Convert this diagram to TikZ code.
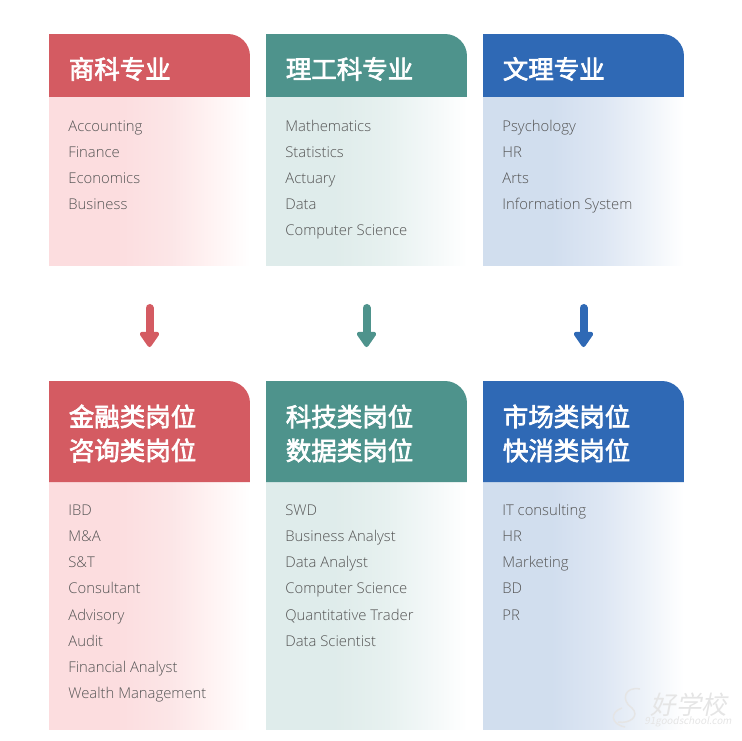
\documentclass[tikz,border=0pt]{standalone}
\usepackage{fontspec}
\setmainfont{Open Sans Light}[BoldFont=Open Sans]
\newfontfamily\cjk{Noto Sans CJK SC}[FakeBold=2.6]
\newfontfamily\markfont{Noto Sans CJK SC}[FakeSlant=0.2]
\usetikzlibrary{arrows.meta}
\definecolor{redhead}{HTML}{D45B62}
\definecolor{greenhead}{HTML}{4E938C}
\definecolor{bluehead}{HTML}{2F69B5}
\definecolor{listtext}{HTML}{555555}
\pgfdeclarehorizontalshading{redfade}{100bp}{rgb(0bp)=(0.988,0.867,0.875);rgb(42bp)=(0.988,0.867,0.875);rgb(55bp)=(0.988,0.90,0.905);rgb(65bp)=(1,0.95,0.95);rgb(75bp)=(1,1,1);rgb(100bp)=(1,1,1)}
\pgfdeclarehorizontalshading{greenfade}{100bp}{rgb(0bp)=(0.875,0.925,0.92);rgb(42bp)=(0.875,0.925,0.92);rgb(55bp)=(0.905,0.945,0.94);rgb(65bp)=(0.95,0.97,0.97);rgb(75bp)=(1,1,1);rgb(100bp)=(1,1,1)}
\pgfdeclarehorizontalshading{bluefade}{100bp}{rgb(0bp)=(0.82,0.87,0.935);rgb(42bp)=(0.82,0.87,0.935);rgb(55bp)=(0.87,0.905,0.955);rgb(65bp)=(0.93,0.95,0.975);rgb(75bp)=(1,1,1);rgb(100bp)=(1,1,1)}
\begin{document}
\begin{tikzpicture}[x=0.02cm,y=-0.02cm]
\tikzset{box/.style = {inner sep=0, outer sep=0, minimum width=4.02cm}}
\tikzset{head/.style = {font=\cjk\fontsize{14.5}{19.3}\selectfont, text=white, align=left, anchor=west, inner sep=0}}
\tikzset{item/.style = {font=\fontsize{8.45}{10}\selectfont, text=listtext, anchor=base west, inner sep=0}}
\tikzset{down/.style = {line width=0.16cm, -{Triangle[width=0.44cm,length=0.34cm,round]}, line cap=round, shorten <=0.84cm, shorten >=0.68cm}}
\tikzset{marktext/.style = {inner sep=0, text=black!10}}
\newcommand{\headfill}[2]{\fill[#2] (#1.south west) -- (#1.north west) [rounded corners=0.44cm] -- (#1.north east) [sharp corners] -- (#1.south east) -- cycle;}
\useasboundingbox (0,0) rectangle (742,740);

% The upper row
\node[box, minimum height=1.26cm] (h1) at (149.5,65.5){};
\node[box, minimum height=1.26cm] (h2) at (366.5,65.5){};
\node[box, minimum height=1.26cm] (h3) at (583.5,65.5){};
\node[box, minimum height=3.38cm, shading=redfade] (b1) at (149.5,181.5){};
\node[box, minimum height=3.38cm, shading=greenfade] (b2) at (366.5,181.5){};
\node[box, minimum height=3.38cm, shading=bluefade] (b3) at (583.5,181.5){};
\headfill{h1}{redhead}
\headfill{h2}{greenhead}
\headfill{h3}{bluehead}
\node[head] (t1) at (68.5,69){商科专业};
\node[head] (t2) at (285.5,69){理工科专业};
\node[head] (t3) at (502.5,69){文理专业};

% The lower row
\node[box, minimum height=2.02cm] (h4) at (149.5,431.5){};
\node[box, minimum height=2.02cm] (h5) at (366.5,431.5){};
\node[box, minimum height=2.02cm] (h6) at (583.5,431.5){};
\node[box, minimum height=4.96cm, shading=redfade] (b4) at (149.5,606){};
\node[box, minimum height=4.96cm, shading=greenfade] (b5) at (366.5,606){};
\node[box, minimum height=4.96cm, shading=bluefade] (b6) at (583.5,606){};
\headfill{h4}{redhead}
\headfill{h5}{greenhead}
\headfill{h6}{bluehead}
\node[head] (t4) at (68.5,433.5){金融类岗位\\咨询类岗位};
\node[head] (t5) at (285.5,433.5){科技类岗位\\数据类岗位};
\node[head] (t6) at (502.5,433.5){市场类岗位\\快消类岗位};

% The arrows
\draw[redhead, down] (b1) -- (h4);
\draw[greenhead, down] (b2) -- (h5);
\draw[bluehead, down] (b3) -- (h6);

% The lists
\foreach \txt [count=\i from 0] in {Accounting,Finance,Economics,Business}
  \node[item] (a\i) at (68,131.4+26*\i){\txt};
\foreach \txt [count=\i from 0] in {Mathematics,Statistics,Actuary,Data,Computer Science}
  \node[item] (c\i) at (285,131.4+26*\i){\txt};
\foreach \txt [count=\i from 0] in {Psychology,HR,Arts,Information System}
  \node[item] (e\i) at (502,131.4+26*\i){\txt};
\foreach \txt [count=\i from 0] in {IBD,M\&A,S\&T,Consultant,Advisory,Audit,Financial Analyst,Wealth Management}
  \node[item] (g\i) at (68,515.6+26.1*\i){\txt};
\foreach \txt [count=\i from 0] in {SWD,Business Analyst,Data Analyst,Computer Science,Quantitative Trader,Data Scientist}
  \node[item] (k\i) at (285,515.6+26.1*\i){\txt};
\foreach \txt [count=\i from 0] in {IT consulting,HR,Marketing,BD,PR}
  \node[item] (m\i) at (502,515.6+26.1*\i){\txt};

% The mark in the corner
\node[marktext, font=\markfont\fontsize{14.5}{15}\selectfont] (w1) at (689,705){好学校};
\node[marktext, font=\markfont\fontsize{5.6}{6}\selectfont] (w2) at (688,722){91goodschool.com};
\draw[black!10, line width=0.03cm] (640,689) .. controls (625,686) and (620,700) .. (632,708) .. controls (640,716) and (630,724) .. (618,722);
\draw[black!10, line width=0.03cm] (622,708) .. controls (610,712) and (610,724) .. (625,727);
\end{tikzpicture}
\end{document}
